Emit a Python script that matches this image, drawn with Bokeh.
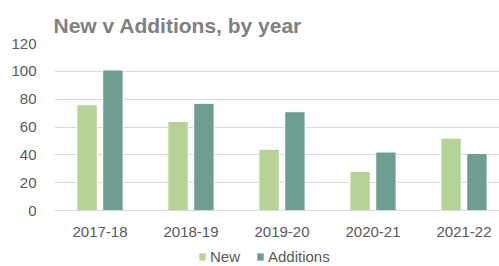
from bokeh.plotting import figure
from bokeh.layouts import column
from bokeh.models import Range1d, FixedTicker, ColumnDataSource, Legend, LegendItem
from bokeh.embed import file_html
from bokeh.resources import INLINE

years = ["2017-18", "2018-19", "2019-20", "2020-21", "2021-22"]
new_vals = [76, 64, 44, 28, 52]
additions_vals = [101, 77, 71, 42, 41]
y_ticks = [0, 20, 40, 60, 80, 100, 120]
series_names = ["New", "Additions"]

FONT = "Liberation Sans"
C_NEW = "#b5d397"
C_ADD = "#6e9d92"

idx = [i + 0.5 for i in range(len(years))]
src = ColumnDataSource(dict(
    x_new=[i - 0.142 for i in idx],
    x_add=[i + 0.142 for i in idx],
    new=new_vals,
    add=additions_vals,
))

p = figure(width=499, height=240, output_backend="svg", toolbar_location=None,
           x_range=Range1d(0, 4.89), y_range=Range1d(0, 120),
           min_border_left=54, min_border_right=0, min_border_top=43, min_border_bottom=30)
p.outline_line_color = None
p.background_fill_color = "white"
p.border_fill_color = "white"

p.title.text = "New v Additions, by year"
p.title.text_font = FONT
p.title.text_font_size = "21px"
p.title.text_font_style = "bold"
p.title.text_color = "#808080"
p.title.align = "left"
p.title.offset = -1
p.title.standoff = 13

p.vbar(x="x_new", top="new", width=0.224, source=src,
       fill_color=C_NEW, line_color="white", line_width=1)
p.vbar(x="x_add", top="add", width=0.224, source=src,
       fill_color=C_ADD, line_color="white", line_width=1)

# y axis
p.yaxis.ticker = FixedTicker(ticks=y_ticks)
p.yaxis.axis_line_color = None
p.yaxis.major_tick_line_color = None
p.yaxis.minor_tick_line_color = None
p.yaxis.major_label_text_font = FONT
p.yaxis.major_label_text_font_size = "15px"
p.yaxis.major_label_text_color = "#595959"
p.yaxis.major_label_standoff = 12

# x axis
p.xaxis.ticker = FixedTicker(ticks=idx)
p.xaxis.major_label_overrides = {v: y for v, y in zip(idx, years)}
p.xaxis.axis_line_color = "#d9d9d9"
p.xaxis.major_tick_line_color = None
p.xaxis.minor_tick_line_color = None
p.xaxis.major_label_text_font = FONT
p.xaxis.major_label_text_font_size = "15px"
p.xaxis.major_label_text_color = "#595959"
p.xaxis.major_label_standoff = 10

p.xgrid.grid_line_color = None
p.ygrid.grid_line_color = "#d9d9d9"
p.ygrid.ticker = FixedTicker(ticks=y_ticks)

# legend strip below the chart
lg = figure(width=499, height=26, output_backend="svg", toolbar_location=None,
            x_range=Range1d(0, 499), y_range=Range1d(0, 26),
            x_axis_location=None, y_axis_location=None,
            min_border_left=0, min_border_right=0, min_border_top=0, min_border_bottom=0)
lg.grid.visible = False
lg.outline_line_color = None
lg.border_fill_color = "white"
lg_new = lg.vbar(x=[-50], top=[0], width=1, fill_color=C_NEW, line_color=None)
lg_add = lg.vbar(x=[-50], top=[0], width=1, fill_color=C_ADD, line_color=None)

legend = Legend(items=[LegendItem(label=series_names[0], renderers=[lg_new]),
                       LegendItem(label=series_names[1], renderers=[lg_add])],
                orientation="horizontal", location=(144, 1),
                label_text_font=FONT, label_text_font_size="15px",
                label_text_color="#595959", glyph_width=8, glyph_height=9,
                label_standoff=4, spacing=14, padding=0, margin=0,
                label_height=15, label_width=32,
                border_line_color=None, background_fill_alpha=0)
lg.add_layout(legend, "center")

layout = column(p, lg, spacing=0)
open("out.html", "w").write(file_html(layout, INLINE))
